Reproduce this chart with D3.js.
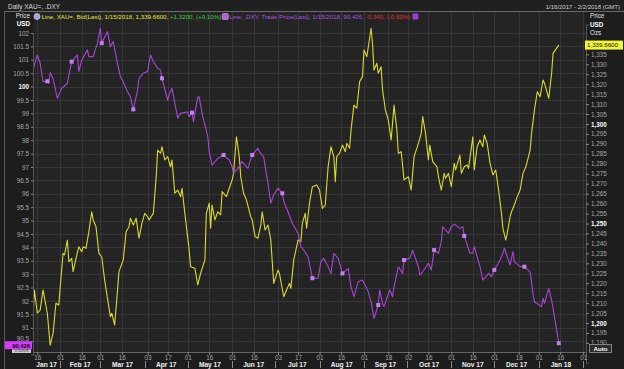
<!DOCTYPE html>
<html><head><meta charset="utf-8">
<script src="https://cdn.jsdelivr.net/npm/d3@7"></script>
<style>html,body{margin:0;padding:0;background:#1c1c1c;overflow:hidden}text{font-family:"Liberation Sans",Arial,sans-serif}</style>
</head><body><svg id="c" width="624" height="369"></svg>
<script>
// ---------- DATA ----------
const dxyDates = [
"2017-01-13","2017-01-16","2017-01-18","2017-01-20","2017-01-23","2017-01-24","2017-01-25","2017-01-27","2017-01-30","2017-01-31",
"2017-02-02","2017-02-06","2017-02-07","2017-02-09","2017-02-13","2017-02-14","2017-02-16","2017-02-20","2017-02-21","2017-02-24",
"2017-02-27","2017-03-01","2017-03-02","2017-03-03","2017-03-06","2017-03-08","2017-03-10","2017-03-13","2017-03-15","2017-03-17",
"2017-03-20","2017-03-22","2017-03-24","2017-03-27","2017-03-28","2017-03-31","2017-04-03","2017-04-05","2017-04-07","2017-04-10",
"2017-04-12","2017-04-13","2017-04-17","2017-04-18","2017-04-20","2017-04-24","2017-04-26","2017-05-01","2017-05-02","2017-05-04",
"2017-05-05","2017-05-08","2017-05-09","2017-05-11","2017-05-15","2017-05-16","2017-05-18","2017-05-22","2017-05-26","2017-05-30",
"2017-06-01","2017-06-02","2017-06-05","2017-06-08","2017-06-12","2017-06-15","2017-06-19","2017-06-20","2017-06-23","2017-06-26",
"2017-06-28","2017-06-30","2017-07-03","2017-07-06","2017-07-07","2017-07-10","2017-07-13","2017-07-17","2017-07-19","2017-07-21",
"2017-07-24","2017-07-27","2017-07-31","2017-08-02","2017-08-04","2017-08-07","2017-08-09","2017-08-11","2017-08-14","2017-08-17",
"2017-08-21","2017-08-23","2017-08-25","2017-08-28","2017-08-31","2017-09-04","2017-09-06","2017-09-08","2017-09-11","2017-09-12",
"2017-09-14","2017-09-15","2017-09-19","2017-09-21","2017-09-22","2017-09-25","2017-09-28","2017-09-29","2017-10-03","2017-10-05",
"2017-10-09","2017-10-10","2017-10-12","2017-10-16","2017-10-18","2017-10-20","2017-10-23","2017-10-25","2017-10-26","2017-10-30",
"2017-11-01","2017-11-03","2017-11-07","2017-11-09","2017-11-10","2017-11-14","2017-11-16","2017-11-17","2017-11-21","2017-11-23",
"2017-11-27","2017-11-29","2017-12-01","2017-12-05","2017-12-07","2017-12-08","2017-12-12","2017-12-14","2017-12-15","2017-12-19",
"2017-12-22","2017-12-26","2017-12-28","2017-12-29","2018-01-03","2018-01-04","2018-01-05","2018-01-08","2018-01-10","2018-01-15"];
const dxyValues = [
100.62,101.18,100.87,100.18,100.20,100.12,100.52,100.31,99.56,99.69,
99.94,100.12,100.43,100.93,101.18,100.56,100.99,101.37,101.12,101.12,
101.62,102.18,101.62,101.74,102.05,101.49,101.68,100.87,100.37,100.18,
99.81,99.62,99.15,99.87,100.31,100.50,100.56,101.18,100.93,100.68,
100.62,100.31,99.50,99.69,99.94,98.82,99.00,99.06,98.88,99.03,
98.69,99.62,99.62,99.00,98.13,97.57,97.07,97.32,97.45,97.26,
97.01,96.76,96.95,97.20,96.95,97.45,97.70,97.57,97.38,96.39,
95.65,95.96,96.21,96.02,95.71,95.33,94.90,94.53,94.03,93.90,
93.65,92.85,92.85,93.47,93.59,93.28,93.03,93.78,93.59,93.03,
93.22,92.53,92.16,92.72,92.78,92.35,91.97,91.35,91.85,92.41,
91.91,91.79,92.41,92.16,92.53,93.28,93.03,93.53,93.59,93.90,
93.28,92.97,93.09,93.41,93.16,93.90,93.78,94.21,94.77,94.53,
94.77,94.87,94.71,94.77,94.43,93.78,93.78,94.03,93.28,92.78,
93.03,92.91,93.16,93.53,93.78,93.97,93.34,93.84,93.47,93.28,
93.28,93.09,92.29,91.97,91.79,92.10,91.91,92.47,92.04,90.426];
const dxyMarkerDates = ["2017-01-23","2017-02-09","2017-03-02","2017-03-24","2017-04-13","2017-05-04","2017-05-26","2017-06-15","2017-07-06",
"2017-07-27","2017-08-17","2017-09-11","2017-09-29","2017-10-20","2017-11-10","2017-12-01","2017-12-22","2018-01-15"];

const goldDates = [
"2017-01-13","2017-01-14","2017-01-16","2017-01-18","2017-01-20","2017-01-23","2017-01-25","2017-01-27","2017-01-29","2017-01-31",
"2017-02-01","2017-02-03","2017-02-04","2017-02-06","2017-02-07","2017-02-09","2017-02-10","2017-02-12","2017-02-14","2017-02-16",
"2017-02-17","2017-02-19","2017-02-21","2017-02-23","2017-02-24","2017-02-26","2017-02-28","2017-03-02","2017-03-04","2017-03-06",
"2017-03-08","2017-03-09","2017-03-11","2017-03-13","2017-03-14","2017-03-17","2017-03-19","2017-03-21","2017-03-22","2017-03-24",
"2017-03-26","2017-03-28","2017-03-30","2017-04-01","2017-04-03","2017-04-04","2017-04-07","2017-04-09","2017-04-10","2017-04-12",
"2017-04-13","2017-04-15","2017-04-17","2017-04-19","2017-04-20","2017-04-22","2017-04-24","2017-04-26","2017-04-27","2017-04-29",
"2017-05-02","2017-05-03","2017-05-06","2017-05-08","2017-05-10","2017-05-13","2017-05-14","2017-05-16","2017-05-17","2017-05-18",
"2017-05-20","2017-05-22","2017-05-24","2017-05-25","2017-05-28","2017-05-30","2017-06-01","2017-06-02","2017-06-04","2017-06-06",
"2017-06-07","2017-06-09","2017-06-11","2017-06-14","2017-06-15","2017-06-17","2017-06-19","2017-06-21","2017-06-22","2017-06-24",
"2017-06-26","2017-06-28","2017-06-30","2017-07-03","2017-07-04","2017-07-07","2017-07-09","2017-07-11","2017-07-12","2017-07-14",
"2017-07-17","2017-07-19","2017-07-20","2017-07-22","2017-07-23","2017-07-25","2017-07-27","2017-07-30","2017-08-01","2017-08-03",
"2017-08-05","2017-08-07","2017-08-09","2017-08-11","2017-08-12","2017-08-13","2017-08-15","2017-08-17","2017-08-19","2017-08-20",
"2017-08-22","2017-08-23","2017-08-25","2017-08-27","2017-08-29","2017-08-31","2017-09-01","2017-09-03","2017-09-06","2017-09-07",
"2017-09-08","2017-09-10","2017-09-11","2017-09-13","2017-09-14","2017-09-16","2017-09-18","2017-09-20","2017-09-22","2017-09-24",
"2017-09-25","2017-09-27","2017-09-29","2017-10-02","2017-10-04","2017-10-06","2017-10-09","2017-10-11","2017-10-12","2017-10-14",
"2017-10-16","2017-10-17","2017-10-19","2017-10-22","2017-10-23","2017-10-25","2017-10-27","2017-10-28","2017-10-30","2017-11-01",
"2017-11-03","2017-11-04","2017-11-07","2017-11-08","2017-11-10","2017-11-12","2017-11-13","2017-11-16","2017-11-17","2017-11-19",
"2017-11-21","2017-11-23","2017-11-24","2017-11-26","2017-11-28","2017-11-30","2017-12-02","2017-12-04","2017-12-06","2017-12-07",
"2017-12-09","2017-12-10","2017-12-12","2017-12-13","2017-12-15","2017-12-17","2017-12-19","2017-12-21","2017-12-23","2017-12-26",
"2017-12-27","2017-12-29","2017-12-31","2018-01-02","2018-01-04","2018-01-05","2018-01-08","2018-01-10","2018-01-11","2018-01-15"];
const goldValues = [
1203.2,1216.6,1204.9,1206.5,1216.6,1204.9,1188.9,1194.8,1209.9,1209.0,
1218.2,1235.0,1234.2,1241.7,1230.8,1232.5,1225.8,1232.5,1238.3,1235.8,
1238.3,1237.5,1245.9,1255.9,1251.8,1248.4,1235.0,1233.3,1221.6,1212.4,
1203.2,1204.9,1199.0,1216.6,1225.8,1231.7,1245.9,1248.4,1252.6,1249.2,
1252.6,1242.6,1250.1,1255.1,1253.4,1251.8,1255.1,1273.5,1286.9,1285.3,
1288.6,1281.9,1283.6,1278.5,1281.9,1265.2,1266.8,1263.5,1267.7,1255.1,
1236.7,1228.3,1227.5,1219.1,1225.0,1231.7,1255.1,1260.2,1247.6,1259.3,
1251.8,1255.9,1254.3,1266.0,1263.5,1267.7,1271.9,1275.2,1293.6,1283.6,
1273.5,1265.2,1261.8,1253.4,1251.8,1243.4,1242.6,1249.2,1255.9,1246.7,
1249.2,1241.7,1219.9,1226.6,1225.0,1213.2,1216.6,1219.9,1217.4,1231.7,
1241.7,1240.9,1250.1,1255.1,1247.6,1260.2,1268.5,1269.3,1266.8,1257.6,
1259.3,1278.5,1288.6,1283.6,1271.0,1283.6,1285.3,1289.4,1286.1,1290.3,
1287.8,1297.0,1309.5,1307.9,1321.3,1323.8,1337.2,1333.8,1348.1,1340.2,
1327.1,1330.5,1325.5,1328.8,1317.1,1307.0,1302.0,1292.0,1309.5,1297.0,
1285.3,1286.1,1271.9,1273.5,1266.8,1283.6,1290.3,1295.3,1303.7,1295.3,
1281.9,1289.4,1281.1,1278.5,1273.5,1266.8,1275.2,1272.7,1275.2,1268.5,
1280.3,1276.9,1284.4,1275.2,1278.5,1279.4,1277.7,1293.6,1276.9,1288.6,
1292.0,1288.6,1294.5,1290.3,1280.3,1274.4,1276.9,1266.8,1255.1,1247.6,
1241.7,1245.1,1253.4,1255.9,1259.3,1263.5,1266.8,1275.2,1278.5,1286.9,
1295.3,1307.0,1316.2,1313.7,1322.1,1320.5,1312.9,1325.5,1335.5,1339.66];

const leftTicks = [90.5,91,91.5,92,92.5,93,93.5,94,94.5,95,95.5,96,96.5,97,97.5,98,98.5,99,99.5,100,100.5,101,101.5,102];
const leftBold = [100];
const rightTicks = [1190,1195,1200,1205,1210,1215,1220,1225,1230,1235,1240,1245,1250,1255,1260,1265,1270,1275,1280,1285,1290,1295,1300,1305,1310,1315,1320,1325,1330,1335];
const rightBold = [1200,1250,1300];
const xTickDates = ["2017-01-16","2017-02-01","2017-02-16","2017-03-01","2017-03-16","2017-04-03","2017-04-17","2017-05-01","2017-05-16","2017-06-01","2017-06-16","2017-07-03","2017-07-17","2017-08-01","2017-08-16","2017-09-01","2017-09-18","2017-10-02","2017-10-16","2017-11-01","2017-11-16","2017-12-01","2017-12-18","2018-01-01","2018-01-16","2018-02-01"];
const monthLabels = ["Jan 17","Feb 17","Mar 17","Apr 17","May 17","Jun 17","Jul 17","Aug 17","Sep 17","Oct 17","Nov 17","Dec 17","Jan 18"];
const monthStarts = ["2017-01-01","2017-02-01","2017-03-01","2017-04-01","2017-05-01","2017-06-01","2017-07-01","2017-08-01","2017-09-01","2017-10-01","2017-11-01","2017-12-01","2018-01-01","2018-02-01"];

// ---------- CHART ----------
const parse = d3.utcParse("%Y-%m-%d");
const svg = d3.select("#c");
const P = {l:33, r:586, t:12, b:352};
const x = d3.scaleUtc().domain([parse("2017-01-13"), parse("2018-02-03")]).range([P.l, P.r]);
const yL = d3.scaleLinear().domain([90, 102]).range([354.6, 33]);
const yR = d3.scaleLinear().domain([1180, 1350]).range([362.8, 24.5]);

const dxy = dxyDates.map((d,i)=>({date:parse(d), v:dxyValues[i]}));
const gold = goldDates.map((d,i)=>({date:parse(d), v:goldValues[i]}));

// backgrounds
svg.append("rect").attr("width",624).attr("height",369).attr("fill","#1d1d1d");
svg.append("rect").attr("x",0).attr("y",0).attr("width",624).attr("height",11).attr("fill","#202020");
svg.append("line").attr("x1",4).attr("x2",624).attr("y1",11.5).attr("y2",11.5).attr("stroke","#6a6a6a");
svg.append("line").attr("x1",4.5).attr("x2",4.5).attr("y1",11).attr("y2",369).attr("stroke","#5a5a5a");
svg.append("rect").attr("x",P.l).attr("y",P.t).attr("width",P.r-P.l).attr("height",P.b-P.t).attr("fill","#242424");

// grid
const grid = svg.append("g");
grid.selectAll("line.h").data(leftTicks).join("line")
  .attr("x1",P.l).attr("x2",P.r).attr("y1",d=>Math.round(yL(d))+0.5).attr("y2",d=>Math.round(yL(d))+0.5)
  .attr("stroke","#363636").attr("stroke-width",1);
grid.selectAll("line.v").data(xTickDates).join("line")
  .attr("x1",d=>Math.round(x(parse(d)))+0.5).attr("x2",d=>Math.round(x(parse(d)))+0.5)
  .attr("y1",P.t).attr("y2",P.b).attr("stroke","#363636");

// clip
svg.append("clipPath").attr("id","pc").append("rect").attr("x",P.l).attr("y",P.t).attr("width",P.r-P.l).attr("height",P.b-P.t);
const plot = svg.append("g").attr("clip-path","url(#pc)");

plot.append("path").datum(gold)
  .attr("d", d3.line().x(d=>x(d.date)).y(d=>yR(d.v)))
  .attr("fill","none").attr("stroke","#dada30").attr("stroke-width",1.1).attr("stroke-linejoin","round");
plot.append("path").datum(dxy)
  .attr("d", d3.line().x(d=>x(d.date)).y(d=>yL(d.v)))
  .attr("fill","none").attr("stroke","#a846d6").attr("stroke-width",1.1).attr("stroke-linejoin","round");
const mk = new Set(dxyMarkerDates);
plot.selectAll("rect.mk").data(dxy.filter((d,i)=>mk.has(dxyDates[i]))).join("rect")
  .attr("x",d=>x(d.date)-2).attr("y",d=>yL(d.v)-2).attr("width",4).attr("height",4).attr("fill","#c47ff0");

// left axis
const ga = svg.append("g").attr("transform",`translate(${P.l},0)`)
  .call(d3.axisLeft(yL).tickValues(leftTicks).tickSize(2).tickPadding(2).tickFormat(d3.format("")));
ga.select(".domain").attr("stroke","#555");
ga.selectAll(".tick line").attr("stroke","#888");
ga.selectAll(".tick text").attr("fill",d=>leftBold.includes(d)?"#ffffff":"#a8a8a8")
  .attr("font-weight",d=>leftBold.includes(d)?"bold":"normal").style("font-size","6.3px")
  .attr("y",d=>d===90.5?-2.5:0);

// right axis
const gr = svg.append("g").attr("transform",`translate(${P.r},0)`)
  .call(d3.axisRight(yR).tickValues(rightTicks).tickSize(3).tickPadding(2).tickFormat(d3.format(",")));
gr.select(".domain").attr("stroke","#555");
gr.selectAll(".tick line").attr("stroke","#888");
gr.selectAll(".tick text").attr("fill",d=>rightBold.includes(d)?"#ffffff":"#a8a8a8")
  .attr("font-weight",d=>rightBold.includes(d)?"bold":"normal").style("font-size","6.3px");

// bottom axis
const gb = svg.append("g").attr("transform",`translate(0,${P.b})`)
  .call(d3.axisBottom(x).tickValues(xTickDates.map(parse)).tickSize(3).tickPadding(1).tickFormat(d3.utcFormat("%d")));
gb.select(".domain").attr("stroke","#666");
gb.selectAll(".tick line").attr("stroke","#888");
gb.selectAll(".tick text").attr("fill","#a8a8a8").style("font-size","6.3px");

// month labels and separators
const ms = monthStarts.map(parse);
monthLabels.forEach((m,i)=>{
  const a = Math.max(P.l, x(ms[i])), b = x(ms[i+1]);
  svg.append("text").attr("x",(a+b)/2).attr("y",367).attr("text-anchor","middle")
    .attr("fill","#f0f0f0").attr("font-weight","bold").style("font-size","6.6px").text(m);
});
svg.selectAll("line.sep").data(ms.slice(1)).join("line")
  .attr("x1",d=>Math.round(x(d))+0.5).attr("x2",d=>Math.round(x(d))+0.5).attr("y1",361).attr("y2",368)
  .attr("stroke","#8a8a8a");

// header texts
svg.append("text").attr("x",8).attr("y",8.5).attr("fill","#d8d8d8").style("font-size","6.5px").text("Daily XAU=, .DXY");
svg.append("text").attr("x",620).attr("y",8.5).attr("text-anchor","end").attr("fill","#d0d0d0").style("font-size","6px").text("1/16/2017 - 2/2/2018 (GMT)");
svg.append("text").attr("x",30).attr("y",18).attr("text-anchor","end").attr("fill","#e0e0e0").style("font-size","6.3px").text("Price");
svg.append("text").attr("x",30).attr("y",26).attr("text-anchor","end").attr("fill","#ffffff").attr("font-weight","bold").style("font-size","6.3px").text("USD");
svg.append("text").attr("x",590).attr("y",18).attr("fill","#e0e0e0").style("font-size","6.3px").text("Price");
svg.append("text").attr("x",590).attr("y",26.5).attr("fill","#ffffff").attr("font-weight","bold").style("font-size","6.3px").text("USD");
svg.append("text").attr("x",590).attr("y",35).attr("fill","#e0e0e0").style("font-size","6.3px").text("Ozs");

// legend line
const lg = svg.append("g");
lg.append("circle").attr("cx",37).attr("cy",16.5).attr("r",3).attr("fill","#9aa8d8").attr("stroke","#dde").attr("stroke-width",0.6);
const t1 = lg.append("text").attr("x",41.5).attr("y",19).style("font-size","6.2px");
t1.append("tspan").attr("fill","#e6e636").text("Line, XAU=, Bid(Last), 1/15/2018, 1,339.6600, ");
t1.append("tspan").attr("fill","#3ccf3c").text("+1.3200, (+0.10%)");
const w1 = t1.node().getComputedTextLength();
const ix2 = 41.5 + w1 + 4;
lg.append("rect").attr("x",ix2-3).attr("y",13.5).attr("width",6).attr("height",6).attr("rx",1).attr("fill","#b060e0").attr("stroke","#dcc").attr("stroke-width",0.5);
const t2 = lg.append("text").attr("x",ix2+4).attr("y",19).style("font-size","6.2px");
t2.append("tspan").attr("fill","#b050e0").text("Line, .DXY, Trade Price(Last), 1/15/2018, 90.426, ");
t2.append("tspan").attr("fill","#e03030").text("-0.340, (-0.60%)");
const w2 = t2.node().getComputedTextLength();
lg.append("rect").attr("x",ix2+4+w2+2).attr("y",13.5).attr("width",6).attr("height",6).attr("rx",1).attr("fill","#9a40d0");

// value flags
const yv = yL(90.426);
svg.append("rect").attr("x",5).attr("y",yv-2).attr("width",27).attr("height",8).attr("fill","#d23cff");
svg.append("text").attr("x",30).attr("y",yv+4.8).attr("text-anchor","end").attr("fill","#1a0020").attr("font-weight","bold").style("font-size","5.8px").text("90.426");
svg.append("rect").attr("x",12).attr("y",yv+6.2).attr("width",19).attr("height",3.6).attr("fill","#cfcfcf");
svg.append("text").attr("x",21.5).attr("y",yv+9.3).attr("text-anchor","middle").attr("fill","#222").style("font-size","3.1px").text("1/15/2018");
const yg = yR(1339.66);
svg.append("rect").attr("x",585).attr("y",yg-4.5).attr("width",38).attr("height",9).attr("fill","#f4f43a");
svg.append("text").attr("x",587).attr("y",yg+2.3).attr("fill","#111").style("font-size","6.2px").text("1,339.6600");
svg.append("rect").attr("x",589.5).attr("y",344.5).attr("width",22).attr("height",8).attr("fill","#2c2c2c").attr("stroke","#9a9a9a").attr("stroke-width",0.8);
svg.append("text").attr("x",600.5).attr("y",351).attr("text-anchor","middle").attr("fill","#ffffff").attr("font-weight","bold").style("font-size","6.2px").text("Auto");
</script></body></html>
